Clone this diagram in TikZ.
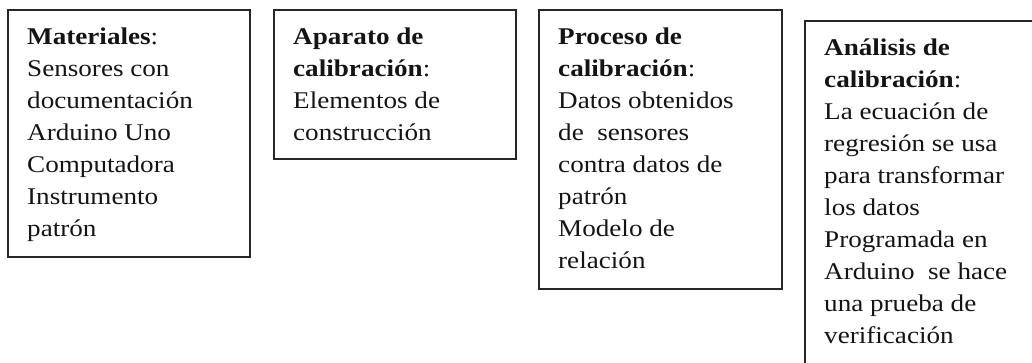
\documentclass[tikz,border=0pt]{standalone}
\usepackage{fontspec}
\setmainfont{Liberation Serif}[FakeStretch=1.13]
\begin{document}
\begin{tikzpicture}[x=1pt,y=-1pt]
\tikzset{
  box/.style={draw=black!85, line width=1.3pt, fill=none},
  txt/.style={anchor=north west, inner sep=0pt, align=left, text=black!92,
    font=\fontsize{24}{32}\selectfont},
}
\useasboundingbox (0,0) rectangle (1032,362);
\clip (0,0) rectangle (1032,362);
\draw[box] (8,10) rectangle (250,257);
\draw[box] (274,10) rectangle (516,159);
\draw[box] (539,10) rectangle (782,289);
\draw[box] (805,21) rectangle (1045,380);
\node[txt] (t1) at (27,20) {\rule{0pt}{24pt}\textbf{Materiales}:\\Sensores con\\documentación\\Arduino Uno\\Computadora\\Instrumento\\patrón};
\node[txt] (t2) at (293,20) {\rule{0pt}{24pt}\textbf{Aparato de}\\\textbf{calibración}:\\Elementos de\\construcción};
\node[txt] (t3) at (558,20) {\rule{0pt}{24pt}\textbf{Proceso de}\\\textbf{calibración}:\\Datos obtenidos\\de\ \ sensores\\contra datos de\\patrón\\Modelo de\\relación};
\node[txt] (t4) at (824,31) {\rule{0pt}{24pt}\textbf{Análisis de}\\\textbf{calibración}:\\La ecuación de\\regresión se usa\\para transformar\\los datos\\Programada en\\Arduino\ \ se hace\\una prueba de\\verificación};
\end{tikzpicture}
\end{document}
